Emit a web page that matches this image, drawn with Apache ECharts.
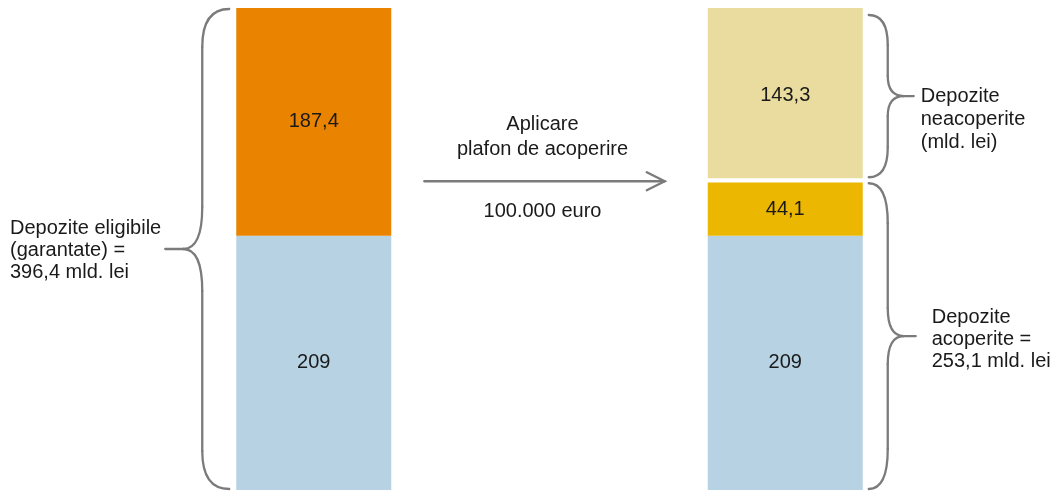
<!DOCTYPE html>
<html>
<head>
<meta charset="utf-8">
<script src="https://cdn.jsdelivr.net/npm/echarts@6/dist/echarts.min.js"></script>
<style>
  html, body { margin: 0; padding: 0; background: #ffffff; }
  #chart { width: 1055px; height: 492px; }
</style>
</head>
<body>
<div id="chart"></div>
<script>
// Stacked columns: eligible deposits before and after applying the coverage cap (mld. lei)
const categories = ['Depozite eligibile', 'Depozite după plafon'];
const coveredBase = [209, 209];        // partea acoperită comună
const eligibleRest = [187.4, '-'];     // restul depozitelor eligibile
const coveredExtra = ['-', 44.1];      // acoperire suplimentară
const uncovered = ['-', 143.3];        // depozite neacoperite

const totalEligible = 396.4;
const totalCovered = 253.1;

const leftNote = ['Depozite eligibile', '(garantate) =', '396,4 mld. lei'];
const arrowTitle = ['Aplicare', 'plafon de acoperire'];
const arrowNote = '100.000 euro';
const uncoveredNote = ['Depozite', 'neacoperite', '(mld. lei)'];
const coveredNote = ['Depozite', 'acoperite =', '253,1 mld. lei'];

const FONT = 'Arial, "Liberation Sans", sans-serif';
const FS = 20;
const TEXT = '#1a1a1a';
const GREY = '#7b7b7b';

const chart = echarts.init(document.getElementById('chart'), null, { renderer: 'canvas' });

const valueLabel = {
  show: true,
  position: 'inside',
  color: TEXT,
  fontSize: FS,
  fontFamily: FONT,
  formatter: p => String(p.value).replace('.', ',')
};

function seg(name, data, color) {
  return {
    name, type: 'bar', stack: 'total', data,
    barWidth: 155,
    itemStyle: { color },
    label: valueLabel,
    silent: true
  };
}

chart.setOption({
  animation: false,
  grid: { left: 78, right: 34, top: 8, bottom: 2 },
  xAxis: { type: 'category', data: categories, show: false },
  yAxis: { type: 'value', min: 0, max: totalEligible, show: false },
  series: [
    seg('Acoperite', coveredBase, '#b7d2e3'),
    seg('Acoperite suplimentar', coveredExtra, '#ebb700'),
    seg('Eligibile rest', eligibleRest, '#e98300'),
    seg('Neacoperite', uncovered, '#e9dc9e')
  ]
});

// ---- braces, arrow and annotations, placed from the data scale ----
function px(cat, val) { return chart.convertToPixel({ seriesIndex: 0 }, [cat, val]); }

const half = 155 / 2;
const leftCx = px(0, 0)[0];
const rightCx = px(1, 0)[0];
const leftBarL = leftCx - half, leftBarR = leftCx + half;
const rightBarL = rightCx - half, rightBarR = rightCx + half;

const yTop = px(0, totalEligible)[1];
const yZero = px(0, 0)[1];
const yCov = px(1, totalCovered)[1];

const stroke = { stroke: GREY, lineWidth: 2.3, fill: null, lineCap: 'round' };

function curve(x1, y1, cx, cy, x2, y2) {
  return { type: 'bezierCurve', silent: true,
    shape: { x1, y1, x2, y2, cpx1: cx, cpy1: cy }, style: stroke };
}
function seg2(x1, y1, x2, y2) {
  return { type: 'line', silent: true, shape: { x1, y1, x2, y2 }, style: stroke };
}

// brace: dir -1 = cusp pointing left, +1 = cusp pointing right
function brace(xE, y0, y1, dir, dv, dc, dt, rE, rM) {
  const xV = xE + dir * dv, xC = xE + dir * dc, xT = xE + dir * dt;
  const yc = (y0 + y1) / 2;
  return {
    els: [
      curve(xE, y0, xV, y0, xV, y0 + rE),
      seg2(xV, y0 + rE, xV, yc - rM),
      curve(xV, yc - rM, xV, yc, xC, yc),
      seg2(xC, yc, xT, yc),
      curve(xC, yc, xV, yc, xV, yc + rM),
      seg2(xV, yc + rM, xV, y1 - rE),
      curve(xV, y1 - rE, xV, y1, xE, y1)
    ],
    tipX: xT, tipY: yc
  };
}

const bLeft = brace(leftBarL - 7, yTop + 1, yZero - 1, -1, 27, 46, 64, 38, 42);
const bUp = brace(rightBarR + 6, yTop + 7, yCov - 5, 1, 19, 35, 45, 30, 20);
const bLow = brace(rightBarR + 6, yCov + 1, yZero - 1, 1, 19, 35, 47, 40, 28);

function txt(lines, x, y, align, vAlign, lh) {
  return {
    type: 'text', silent: true, x, y,
    style: {
      text: Array.isArray(lines) ? lines.join('\n') : lines,
      fill: TEXT, fontSize: FS, fontFamily: FONT,
      align, verticalAlign: vAlign, lineHeight: lh
    }
  };
}

const arrowY = yCov - 1;
const ax0 = leftBarR + 33, ax1 = rightBarL - 43;
const midX = (ax0 + ax1) / 2 - 2;

chart.setOption({
  graphic: [
    // white separation between the uncovered and the covered parts
    {
      type: 'rect', silent: true, z: 10,
      shape: { x: rightBarL - 1, y: yCov - 4, width: 157, height: 4 },
      style: { fill: '#ffffff' }
    },
    ...bLeft.els, ...bUp.els, ...bLow.els,
    seg2(ax0, arrowY, ax1, arrowY),
    {
      type: 'polyline', silent: true,
      shape: { points: [[ax1 - 18, arrowY - 9], [ax1, arrowY], [ax1 - 18, arrowY + 9]] },
      style: stroke
    },
    txt(arrowTitle, midX, arrowY - 44, 'center', 'middle', 25),
    txt(arrowNote, midX, arrowY + 30, 'center', 'middle', 22),
    txt(leftNote, 10, bLeft.tipY + 1, 'left', 'middle', 22),
    txt(uncoveredNote, bUp.tipX + 7, bUp.tipY - 11.5, 'left', 'top', 23),
    txt(coveredNote, bLow.tipX + 16, bLow.tipY + 3, 'left', 'middle', 22)
  ]
});
</script>
</body>
</html>
